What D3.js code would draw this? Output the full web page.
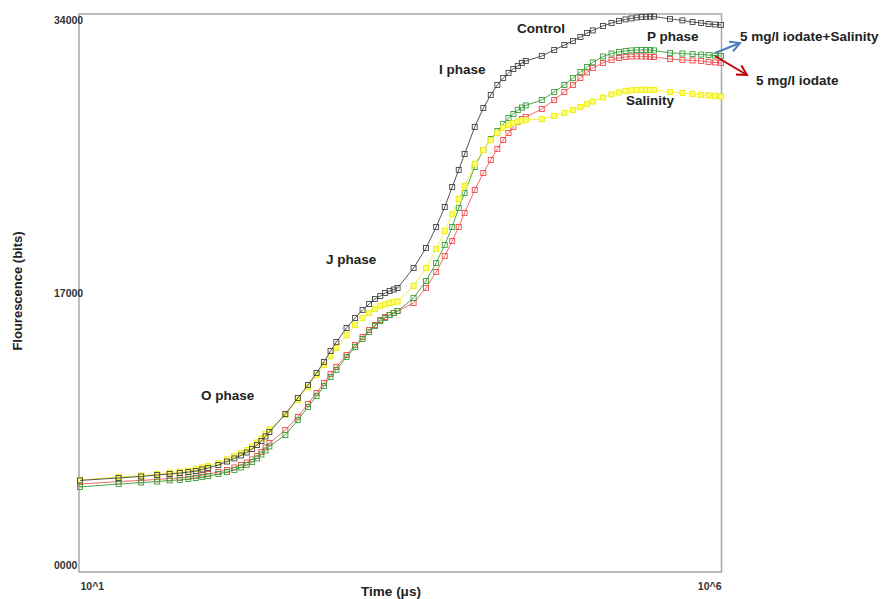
<!DOCTYPE html>
<html><head><meta charset="utf-8">
<script src="https://cdn.jsdelivr.net/npm/d3@7"></script>
<style>body{margin:0;background:#fff;} svg{display:block;font-family:"Liberation Sans",Arial,sans-serif;}</style>
</head><body>
<svg id="c" width="882" height="599"></svg>
<script>
// Sample times (µs)
const times = [10,20,30,40,50,60,70,80,90,100,120,140,160,180,200,220,240,260,280,300,
  400,500,600,700,800,900,1000,1200,1400,1600,1800,2000,2200,2400,2600,2800,3000,
  4000,5000,6000,7000,8000,9000,10000,12000,14000,16000,18000,20000,22000,24000,26000,28000,30000,
  40000,50000,60000,70000,80000,90000,100000,120000,140000,160000,180000,200000,220000,240000,260000,280000,300000,
  400000,500000,600000,700000,800000,900000,1000000];

// Fluorescence (bits)
const control = [5580,5730,5820,5910,5970,6030,6090,6150,6250,6340,6520,6730,6920,7100,7280,7500,7740,7980,8260,8530,
  9630,10600,11390,12130,12800,13470,14020,14870,15480,15970,16330,16640,16820,17000,17120,17210,17310,
  18520,19740,21020,22240,23460,24500,25470,27120,28270,29070,29680,30100,30410,30650,30830,31020,31140,
  31440,31810,32110,32360,32600,32840,33000,33270,33450,33580,33670,33730,33790,33820,33830,33840,33850,
  33700,33610,33510,33450,33390,33360,33330];

const iodateSalinity = [5180,5360,5450,5510,5580,5610,5670,5730,5790,5850,5970,6090,6220,6370,6520,6700,6920,7160,7400,7650,
  8350,9260,10050,10720,11330,11880,12310,13100,13710,14200,14620,14990,15290,15480,15660,15780,15900,
  16700,17730,18830,19930,21020,22180,23090,24680,25710,26380,26870,27300,27660,27910,28150,28300,28430,
  28760,29250,29680,30100,30470,30770,31050,31410,31590,31690,31750,31780,31800,31810,31810,31800,31780,
  31630,31590,31560,31530,31500,31470,31440];

const iodate = [5360,5510,5580,5640,5700,5730,5790,5850,5910,5970,6090,6220,6370,6520,6670,6860,7070,7310,7590,7860,
  8650,9450,10240,10910,11520,12070,12490,13220,13830,14320,14750,15050,15360,15540,15660,15780,15900,
  16390,17310,18280,19260,20170,21020,21880,23280,24310,25110,25780,26320,26750,27120,27420,27600,27730,
  28210,28760,29250,29680,30100,30440,30710,31020,31200,31320,31380,31410,31420,31420,31410,31390,31380,
  31260,31200,31170,31140,31080,31050,31020];

const salinity = [5610,5790,5880,5970,6060,6120,6180,6280,6370,6460,6640,6860,7070,7250,7430,7650,7890,8130,8410,8680,
  9570,10480,11270,12000,12610,13160,13650,14440,15050,15480,15780,16030,16210,16300,16390,16450,16480,
  17430,18520,19680,20780,21810,22730,23520,24860,25710,26320,26750,27060,27240,27360,27450,27510,27540,
  27600,27790,27970,28150,28330,28520,28670,28910,29100,29220,29310,29350,29370,29380,29380,29370,29370,
  29250,29190,29130,29070,29040,29010,28970];

const yTickValues = [0, 17000, 34000];
const yTickLabels = ["0000", "17000", "34000"];
const xTickValues = [10, 1000000];
const xTickLabels = ["10^1", "10^6"];

const svg = d3.select("#c");
const L = 79, R = 721.5, T = 14, B = 572;
const x = d3.scaleLog().domain([10, 1000000]).range([80, 721]);
const y = d3.scaleLinear().domain([0, 34000]).range([B, T]);

// frame
svg.append("rect").attr("x", L).attr("y", T).attr("width", R - L).attr("height", B - T)
  .attr("fill", "none").attr("stroke", "#a8a8a8").attr("stroke-width", 1.5);

// Y axis
const yAxis = svg.append("g").attr("transform", `translate(${L},0)`)
  .call(d3.axisLeft(y).tickValues(yTickValues).tickSize(0).tickFormat((d, i) => yTickLabels[i]));
yAxis.select(".domain").remove();
yAxis.selectAll("text")
  .attr("text-anchor", "start").attr("x", 54 - L)
  .attr("dy", (d, i) => i === 0 ? "-0.35em" : (i === 2 ? "0.95em" : "0.32em"))
  .attr("font-size", 10.5).attr("font-weight", "bold").attr("fill", "#333")
  .attr("font-family", "Liberation Sans, Arial, sans-serif");

// X axis
const xAxis = svg.append("g").attr("transform", `translate(0,${B})`)
  .call(d3.axisBottom(x).tickValues(xTickValues).tickSize(0).tickFormat((d, i) => xTickLabels[i]));
xAxis.select(".domain").remove();
xAxis.selectAll("text")
  .attr("text-anchor", (d, i) => i === 0 ? "start" : "end")
  .attr("y", 11).attr("dy", "0.71em")
  .attr("font-size", 10.5).attr("font-weight", "bold").attr("fill", "#333")
  .attr("font-family", "Liberation Sans, Arial, sans-serif");

// Axis titles
svg.append("text").attr("x", 391).attr("y", 596).attr("text-anchor", "middle")
  .attr("font-size", 13.5).attr("font-weight", "bold").attr("fill", "#222").text("Time (μs)");
svg.append("text").attr("transform", "translate(22,291) rotate(-90)").attr("text-anchor", "middle")
  .attr("font-size", 13).attr("font-weight", "bold").attr("fill", "#222").text("Flourescence (bits)");

// Series
const series = [
  {name: "5 mg/l iodate", values: iodate, line: "#f46a6a", mark: "#f04848", fill: "none", w: 0.9},
  {name: "5 mg/l iodate+Salinity", values: iodateSalinity, line: "#4aa84a", mark: "#3a9e3a", fill: "none", w: 0.9},
  {name: "Salinity", values: salinity, line: "#f5f540", mark: "#eeee20", fill: "#ffff70", w: 1.1},
  {name: "Control", values: control, line: "#555", mark: "#444", fill: "none", w: 0.9}
];
const line = d3.line().x((d, i) => x(times[i])).y(d => y(d));
const ms = 5;
series.forEach(s => {
  const g = svg.append("g");
  g.append("path").datum(s.values).attr("d", line).attr("fill", "none")
    .attr("stroke", s.line).attr("stroke-width", 1);
  g.selectAll("rect").data(s.values).join("rect")
    .attr("x", (d, i) => x(times[i]) - ms / 2).attr("y", d => y(d) - ms / 2)
    .attr("width", ms).attr("height", ms)
    .attr("fill", s.fill).attr("stroke", s.mark).attr("stroke-width", s.w);
});

// Annotations
const notes = [
  {t: "Control", x: 517, y: 33},
  {t: "P phase", x: 647, y: 41},
  {t: "I phase", x: 439, y: 74},
  {t: "J phase", x: 326, y: 264},
  {t: "O phase", x: 201, y: 400},
  {t: "Salinity", x: 626, y: 105},
  {t: "5 mg/l iodate+Salinity", x: 740, y: 41},
  {t: "5 mg/l iodate", x: 756, y: 85}
];
svg.selectAll("text.note").data(notes).join("text").attr("class", "note")
  .attr("x", d => d.x).attr("y", d => d.y)
  .attr("font-size", 13.5).attr("font-weight", "bold").attr("fill", "#222").text(d => d.t);

// Arrows
function arrow(x1, y1, x2, y2, color) {
  const a = Math.atan2(y2 - y1, x2 - x1), h = 11, w = 0.5;
  svg.append("line").attr("x1", x1).attr("y1", y1).attr("x2", x2).attr("y2", y2)
    .attr("stroke", color).attr("stroke-width", 2);
  const p1 = [x2 - h * Math.cos(a - w), y2 - h * Math.sin(a - w)];
  const p2 = [x2 - h * Math.cos(a + w), y2 - h * Math.sin(a + w)];
  svg.append("path").attr("d", `M${p1}L${x2},${y2}L${p2}`).attr("fill", "none")
    .attr("stroke", color).attr("stroke-width", 2).attr("stroke-linejoin", "miter");
}
arrow(715, 53, 740, 43, "#4a7ebb");
arrow(715, 56, 747, 75, "#c00000");
</script>
</body></html>
